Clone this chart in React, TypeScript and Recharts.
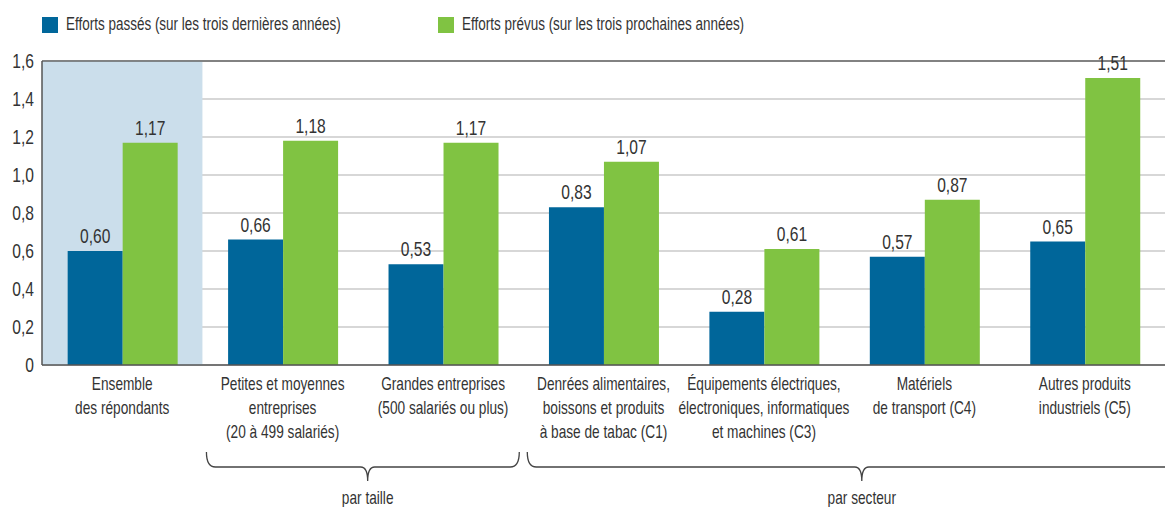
import { BarChart, Bar, XAxis, YAxis, CartesianGrid, ReferenceArea, ReferenceLine, LabelList } from 'recharts';

const categories = [
  'Ensemble\ndes répondants',
  'Petites et moyennes\nentreprises\n(20 à 499 salariés)',
  'Grandes entreprises\n(500 salariés ou plus)',
  'Denrées alimentaires,\nboissons et produits\nà base de tabac (C1)',
  'Équipements électriques,\nélectroniques, informatiques\net machines (C3)',
  'Matériels\nde transport (C4)',
  'Autres produits\nindustriels (C5)',
];
const passes = [0.6, 0.66, 0.53, 0.83, 0.28, 0.57, 0.65];
const prevus = [1.17, 1.18, 1.17, 1.07, 0.61, 0.87, 1.51];
const seriesNames = ['Efforts passés (sur les trois dernières années)', 'Efforts prévus (sur les trois prochaines années)'];
const yTicks = [0, 0.2, 0.4, 0.6, 0.8, 1.0, 1.2, 1.4, 1.6];
// brace groups, in category-band units (from / to / where the point sits)
const groups = [
  { label: 'par taille', from: 1, to: 3, mid: 2.03 },
  { label: 'par secteur', from: 3, to: 7.3, mid: 5.11 },
];

const data = categories.map((c, i) => ({ cat: c, passes: passes[i], prevus: prevus[i] }));

const W = 1165;
const H = 507;
const AXIS_W = 42;
const XAXIS_H = 142;
const FONT = '"Liberation Sans", Arial, sans-serif';
const TEXT = '#333';
const BLUE = '#00669a';
const GREEN = '#80c342';
// the original type is a very condensed face; squeeze Liberation Sans horizontally
const SX_TEXT = 0.76;
const SX_NUM = 0.8;

const fmt = (v: number, d: number) => (v === 0 ? '0' : v.toFixed(d).replace('.', ','));

const Narrow = ({ x, y, anchor = 'middle', size = 18, sx = SX_TEXT, children }: any) => (
  <text transform={`translate(${x},${y}) scale(${sx},1)`} x={0} y={0} textAnchor={anchor} fill={TEXT} fontSize={size} fontFamily={FONT}>
    {children}
  </text>
);

const CatTick = (props: any) => {
  const { x, y, payload } = props;
  const lines = String(payload.value).split('\n');
  return (
    <g>
      {lines.map((l, i) => (
        <Narrow key={i} x={x} y={y + 17 + i * 24}>
          {l}
        </Narrow>
      ))}
    </g>
  );
};

const YTick = (props: any) => {
  const { x, y, payload } = props;
  return (
    <Narrow x={x} y={y + 7} anchor="end" size={19.5} sx={SX_NUM}>
      {fmt(payload.value, 1)}
    </Narrow>
  );
};

const ValueLabel = (props: any) => {
  const { x, y, width, value } = props;
  return (
    <Narrow x={Number(x) + Number(width) / 2} y={Number(y) - 8} size={19.5} sx={SX_NUM}>
      {fmt(Number(value), 2)}
    </Narrow>
  );
};

const Braces = () => {
  const plotW = W - AXIS_W;
  const band = plotW / categories.length;
  const y0 = 452;
  const y1 = 467;
  const y2 = 481;
  return (
    <svg width={W} height={H} style={{ position: 'absolute', left: 0, top: 0, pointerEvents: 'none' }}>
      {groups.map((g) => {
        const a = AXIS_W + g.from * band + 4;
        const b = AXIS_W + g.to * band - 4;
        const m = AXIS_W + g.mid * band;
        const d = `M${a},${y0} Q${a},${y1} ${a + 9},${y1} L${m - 7},${y1} Q${m},${y1} ${m},${y2} M${b},${y0} Q${b},${y1} ${b - 9},${y1} L${m + 7},${y1} Q${m},${y1} ${m},${y2}`;
        return (
          <g key={g.label}>
            <path d={d} fill="none" stroke="#444" strokeWidth={1.3} />
            <Narrow x={m} y={504}>
              {g.label}
            </Narrow>
          </g>
        );
      })}
    </svg>
  );
};

const Legend = () => (
  <div style={{ position: 'absolute', left: 0, top: 0, width: W, height: 40, fontFamily: FONT, fontSize: 17.5, color: TEXT }}>
    {[BLUE, GREEN].map((c, i) => (
      <div key={i} style={{ position: 'absolute', left: i === 0 ? 42 : 438, top: 14, display: 'flex', alignItems: 'center', whiteSpace: 'nowrap' }}>
        <span style={{ display: 'inline-block', width: 16, height: 16, background: c, marginRight: 8 }} />
        <span style={{ display: 'inline-block', transform: `scaleX(0.77)`, transformOrigin: 'left center' }}>{seriesNames[i]}</span>
      </div>
    ))}
  </div>
);

export default function App() {
  return (
    <div style={{ position: 'absolute', left: 0, top: 0, width: W, height: H, background: '#fff' }}>
      <BarChart width={W} height={H} data={data} margin={{ top: 61, right: 0, bottom: 0, left: 0 }} barCategoryGap="16%" barGap={0}>
        <ReferenceArea x1={categories[0]} x2={categories[0]} fill="#cbdeeb" fillOpacity={1} stroke="none" />
        <CartesianGrid vertical={false} stroke="#b0b0b0" strokeWidth={1.2} />
        <ReferenceLine y={1.6} stroke="#666" strokeWidth={1.5} />
        <XAxis dataKey="cat" height={XAXIS_H} tickLine={false} axisLine={{ stroke: '#555', strokeWidth: 1.5 }} tick={<CatTick />} interval={0} />
        <YAxis
          width={AXIS_W}
          domain={[0, 1.6]}
          ticks={yTicks}
          tickLine={false}
          axisLine={{ stroke: '#555', strokeWidth: 1.5 }}
          tick={<YTick />}
          tickMargin={2}
        />
        <Bar dataKey="passes" name={seriesNames[0]} fill={BLUE} isAnimationActive={false}>
          <LabelList dataKey="passes" content={<ValueLabel />} />
        </Bar>
        <Bar dataKey="prevus" name={seriesNames[1]} fill={GREEN} isAnimationActive={false}>
          <LabelList dataKey="prevus" content={<ValueLabel />} />
        </Bar>
      </BarChart>
      <Braces />
      <Legend />
    </div>
  );
}
